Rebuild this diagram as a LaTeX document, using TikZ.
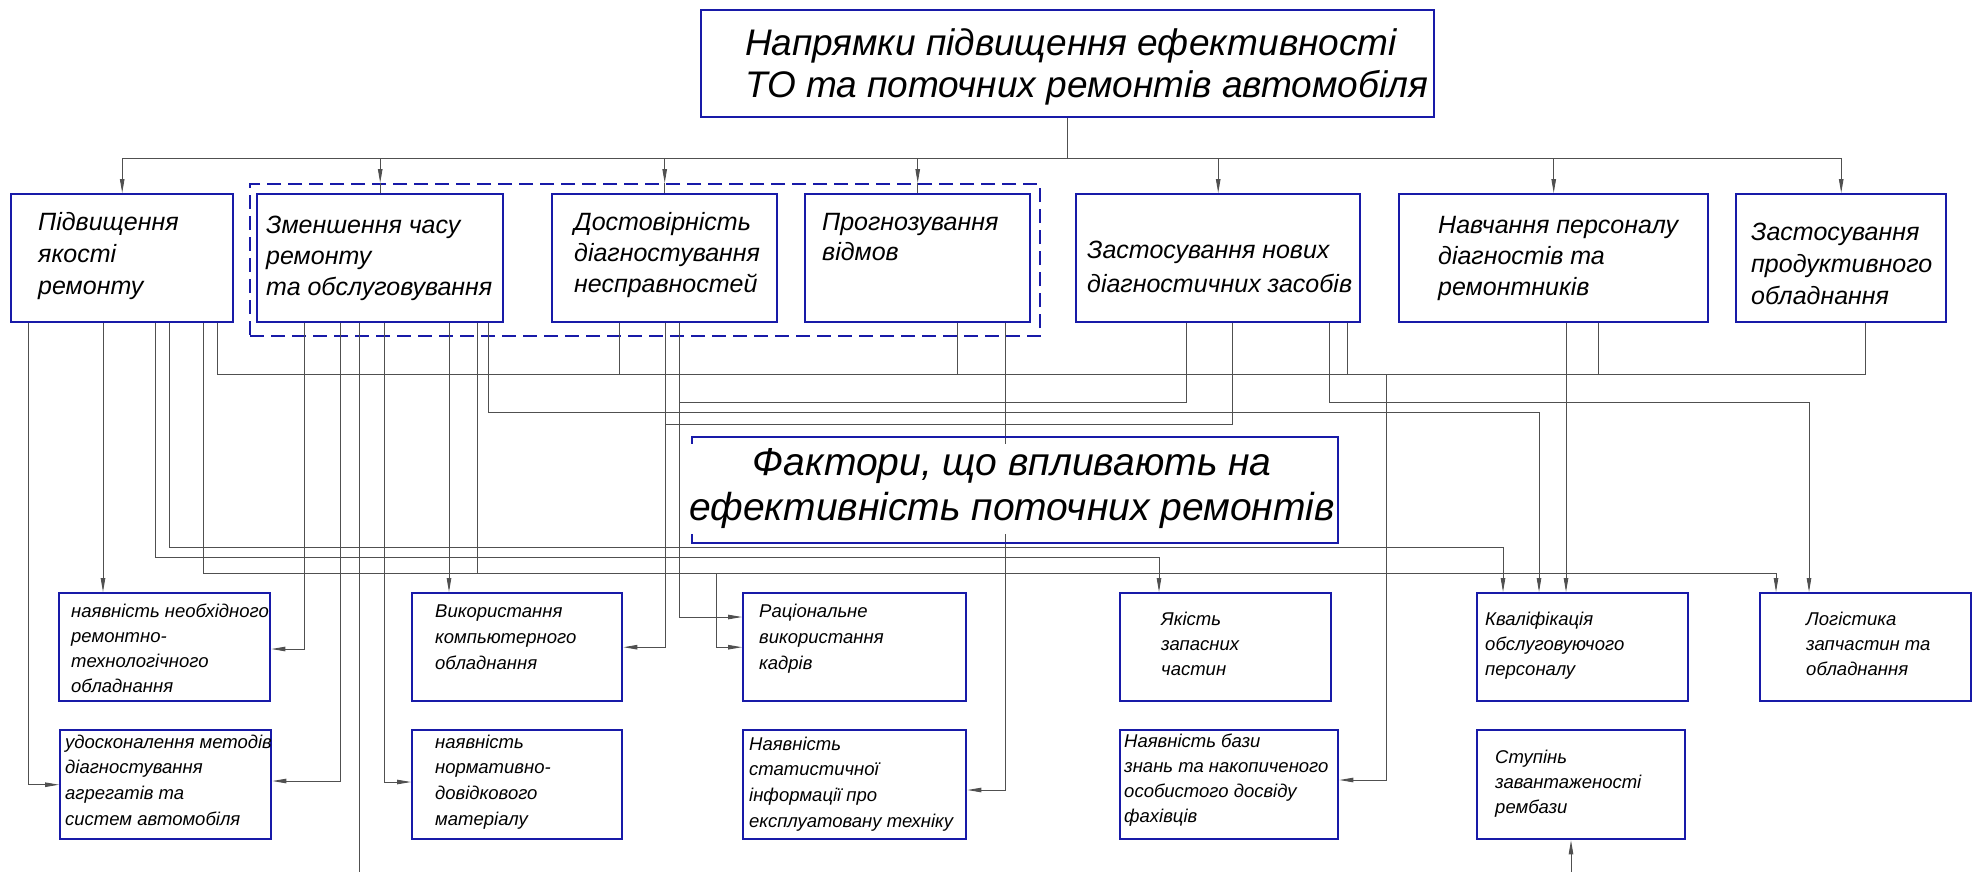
\documentclass[tikz,border=0pt]{standalone}
\usepackage{fontspec}
\setmainfont{Liberation Sans}
\usetikzlibrary{arrows.meta}
\definecolor{boxblue}{RGB}{24,26,168}
\definecolor{lncol}{RGB}{80,80,80}
\newcommand{\boxtext}[3]{{\fontsize{#1}{#2}\selectfont\itshape\begin{tabular}[t]{@{}l@{}}#3\end{tabular}}}
\newcommand{\boxtextc}[3]{{\fontsize{#1}{#2}\selectfont\itshape\begin{tabular}[t]{@{}c@{}}#3\end{tabular}}}
\begin{document}
\begin{tikzpicture}[x=1pt,y=-1pt,
  bx/.style={draw=boxblue,line width=2.4pt,inner sep=0pt,anchor=north west,fill=white},
  grpbox/.style={draw=boxblue,line width=2.4pt,inner sep=0pt,anchor=north west,dash pattern=on 14pt off 7pt},
  ln/.style={draw=lncol,line width=0.9pt},
  ar/.style={ln,-{Triangle[length=14pt,width=4.5pt]}},
  tx/.style={inner sep=0pt,anchor=base west}]
\useasboundingbox (0,0) rectangle (1977,871);
\fill[white] (0,0) rectangle (1977,871);

% ---------- top level boxes ----------
\node[bx,minimum width=733pt,minimum height=107pt] (title) at (700,9) {};
\node[grpbox,minimum width=790pt,minimum height=152pt] (grp) at (249,183) {};
\node[bx,minimum width=222pt,minimum height=128pt] (box1) at (10,193) {};
\node[bx,minimum width=246pt,minimum height=128pt] (box2) at (256,193) {};
\node[bx,minimum width=225pt,minimum height=128pt] (box3) at (551,193) {};
\node[bx,minimum width=225pt,minimum height=128pt] (box4) at (804,193) {};
\node[bx,minimum width=284pt,minimum height=128pt] (box5) at (1075,193) {};
\node[bx,minimum width=309pt,minimum height=128pt] (box6) at (1398,193) {};
\node[bx,minimum width=210pt,minimum height=128pt] (box7) at (1735,193) {};

% ---------- lower boxes ----------
\node[bx,minimum width=211pt,minimum height=108pt] (r1) at (58,592) {};
\node[bx,minimum width=211pt,minimum height=109pt] (r2) at (59,729) {};
\node[bx,minimum width=210pt,minimum height=108pt] (r3) at (411,592) {};
\node[bx,minimum width=210pt,minimum height=109pt] (r4) at (411,729) {};
\node[bx,minimum width=223pt,minimum height=108pt] (r5) at (742,592) {};
\node[bx,minimum width=223pt,minimum height=109pt] (r6) at (742,729) {};
\node[bx,minimum width=211pt,minimum height=108pt] (r7) at (1119,592) {};
\node[bx,minimum width=218pt,minimum height=109pt] (r8) at (1119,729) {};
\node[bx,minimum width=211pt,minimum height=108pt] (r9) at (1476,592) {};
\node[bx,minimum width=208pt,minimum height=109pt] (r10) at (1476,729) {};
\node[bx,minimum width=211pt,minimum height=108pt] (r11) at (1759,592) {};

% junction coordinates
\coordinate (bus0) at (0,158);
\coordinate (j1) at (1386,374);
\coordinate (j2) at (716,573);

% ---------- connectors ----------
\begin{scope}[on background layer/.style={}]
% box1
\draw[ar] (box1.south -| 28,0) |- (r2.west);
\draw[ar] (box1.south -| 103,0) -- (r1.north -| 103,0);
\draw[ar] (box1.south -| 155,0) |- (1159,557) -- (r7.north -| 1159,0);
\draw[ar] (box1.south -| 169,0) |- (1503,547) -- (r9.north -| 1503,0);
\draw[ar] (box1.south -| 203,0) |- (1776,573) -- (r11.north -| 1776,0);
\draw[ln] (box1.south -| 217,0) -- (217,374) -- (1865,374) -- (box7.south -| 1865,0);
% box2
\draw[ar] (box2.south -| 304,0) |- (r1.east |- 0,649);
\draw[ar] (box2.south -| 340,0) |- (r2.east |- 0,781);
\draw[ar] (box2.south -| 359,0) -- (359,885) -- (1571,885) -- (r10.south -| 1571,0);
\draw[ar] (box2.south -| 384,0) |- (r4.west |- 0,782);
\draw[ar] (box2.south -| 449,0) -- (r3.north -| 449,0);
\draw[ln] (box2.south -| 477,0) -- (477,573);
\draw[ar] (box2.south -| 488,0) |- (1539,412) -- (r9.north -| 1539,0);
% box3
\draw[ln] (box3.south -| 619,0) -- (619,374);
\draw[ar] (box3.south -| 665,0) |- (r3.east);
\draw[ar] (box3.south -| 679,0) |- (r5.west |- 0,617);
% box4
\draw[ln] (box4.south -| 957,0) -- (957,374);
\draw[ar] (box4.south -| 1005,0) |- (r6.east |- 0,790);
% box5
\draw[ln] (box5.south -| 1186,0) |- (679,402);
\draw[ln] (box5.south -| 1232,0) |- (665,424);
\draw[ar] (box5.south -| 1329,0) |- (1809,402) -- (r11.north -| 1809,0);
\draw[ln] (box5.south -| 1347,0) -- (1347,374);
% box6
\draw[ar] (box6.south -| 1566,0) -- (r9.north -| 1566,0);
\draw[ln] (box6.south -| 1598,0) -- (1598,374);
% from junctions
\draw[ar] (j1) |- (r8.east |- 0,780);
\draw[ar] (j2) |- (r5.west);
\end{scope}

% ---------- top connectors ----------
\draw[ln] (title.south) -- (title.south |- bus0);
\draw[ln] (box1.north |- bus0) -- (box7.north |- bus0);
\draw[ar] (box1.north |- bus0) -- (box1.north);
\draw[ar] (box2.north |- bus0) -- (box2.north |- grp.north);
\draw[ln] (box2.north |- grp.north) -- (box2.north);
\draw[ar] (box3.north |- bus0) -- (box3.north |- grp.north);
\draw[ln] (box3.north |- grp.north) -- (box3.north);
\draw[ar] (box4.north |- bus0) -- (box4.north |- grp.north);
\draw[ln] (box4.north |- grp.north) -- (box4.north);
\draw[ar] (box5.north |- bus0) -- (box5.north);
\draw[ar] (box6.north |- bus0) -- (box6.north);
\draw[ar] (box7.north |- bus0) -- (box7.north);

% factors box (unfilled, line passes behind its text)
\node[draw=boxblue,line width=2.4pt,inner sep=0pt,anchor=north west,minimum width=646pt,minimum height=106pt] (fak) at (691,436) {};

% ---------- texts ----------
\node[tx] (titlet) at (745,55) {\boxtext{37}{42}{Напрямки підвищення ефективності\\ТО та поточних ремонтів автомобіля}};
\node[tx] (box1t) at (38,230) {\boxtext{25}{32}{Підвищення\\якості\\ремонту}};
\node[tx] (box2t) at (266,233) {\boxtext{25}{31}{Зменшення часу\\ремонту\\та обслуговування}};
\node[tx] (box3t) at (574,230) {\boxtext{25}{31}{Достовірність\\діагностування\\несправностей}};
\node[tx] (box4t) at (822,230) {\boxtext{25}{30}{Прогнозування\\відмов}};
\node[tx] (box5t) at (1087,258) {\boxtext{25}{34}{Застосування нових\\діагностичних засобів}};
\node[tx] (box6t) at (1438,233) {\boxtext{25}{31}{Навчання персоналу\\діагностів та\\ремонтників}};
\node[tx] (box7t) at (1751,240) {\boxtext{25}{32}{Застосування\\продуктивного\\обладнання}};
\node[inner sep=0pt,anchor=base,fill=white] (fakt) at (1012,475) {\boxtextc{39}{45}{Фактори, що впливають на\\ефективність поточних ремонтів}};

\node[tx] (r1t) at (71,617) {\boxtext{18.5}{25.3}{наявність необхідного\\ремонтно-\\технологічного\\обладнання}};
\node[tx] (r2t) at (65,748) {\boxtext{18.5}{25.7}{удосконалення методів\\діагностування\\агрегатів та\\систем автомобіля}};
\node[tx] (r3t) at (435,617) {\boxtext{18.5}{26}{Використання\\компьютерного\\обладнання}};
\node[tx] (r4t) at (435,748) {\boxtext{18.5}{25.7}{наявність\\нормативно-\\довідкового\\матеріалу}};
\node[tx] (r5t) at (759,617) {\boxtext{18.5}{26}{Раціональне\\використання\\кадрів}};
\node[tx] (r6t) at (749,750) {\boxtext{18.5}{25.7}{Наявність\\статистичної\\інформації про\\експлуатовану техніку}};
\node[tx] (r7t) at (1161,625) {\boxtext{18.5}{25}{Якість\\запасних\\частин}};
\node[tx] (r8t) at (1124,747) {\boxtext{18.5}{25.3}{Наявність бази\\знань та накопиченого\\особистого досвіду\\фахівців}};
\node[tx] (r9t) at (1485,625) {\boxtext{18.5}{25}{Кваліфікація\\обслуговуючого\\персоналу}};
\node[tx] (r10t) at (1495,763) {\boxtext{18.5}{25}{Ступінь\\завантаженості\\рембази}};
\node[tx] (r11t) at (1806,625) {\boxtext{18.5}{25}{Логістика\\запчастин та\\обладнання}};
\end{tikzpicture}
\end{document}
